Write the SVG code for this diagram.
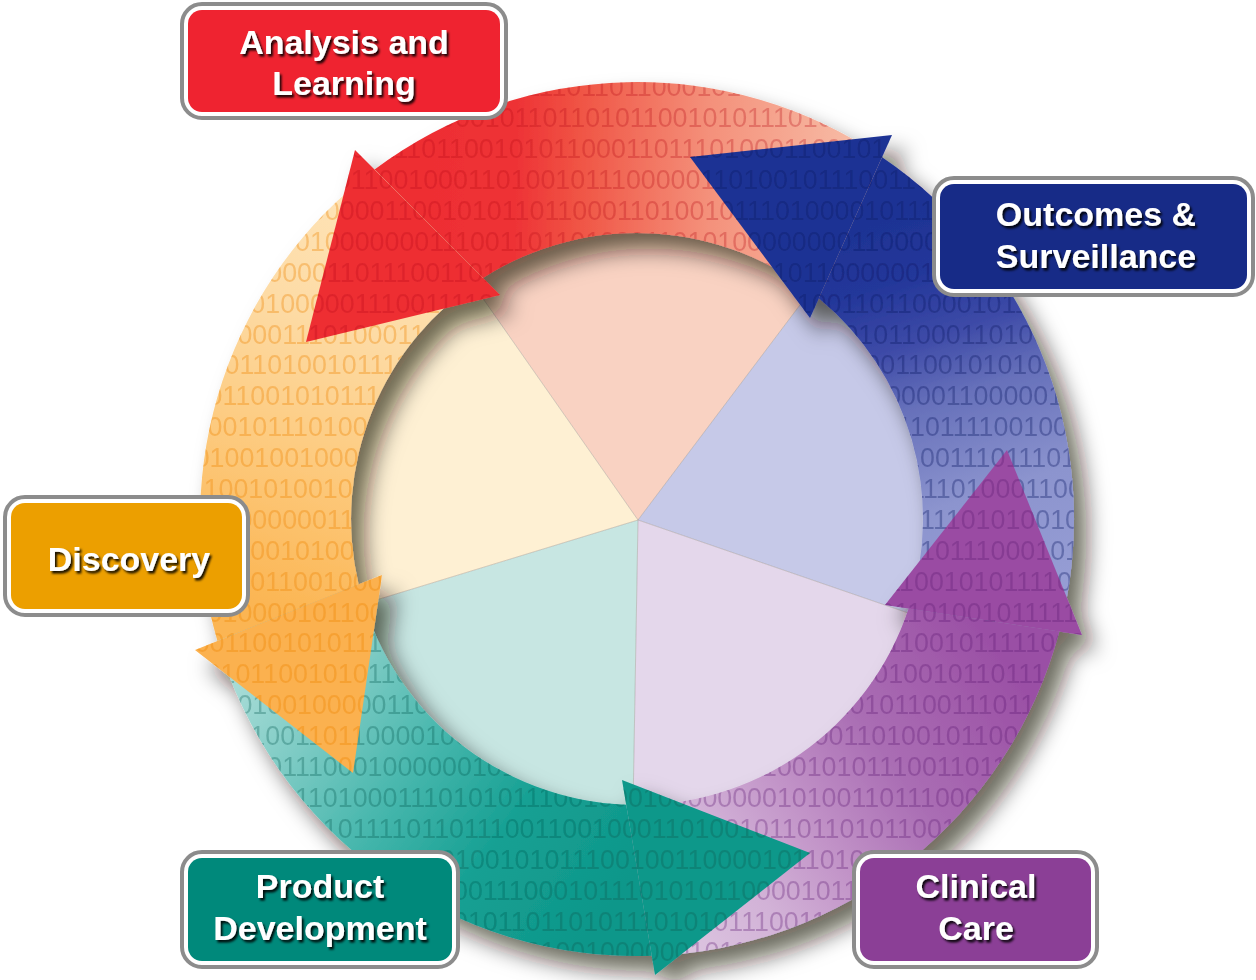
<svg xmlns="http://www.w3.org/2000/svg" width="1256" height="980" viewBox="0 0 1256 980">
<defs>
<style>
.b{font-family:"Liberation Sans",Arial,sans-serif;font-size:26.8px}
.lbl{font-family:"Liberation Sans",Arial,sans-serif;font-weight:bold;font-size:34px;fill:#fff;text-anchor:middle}
.frame{fill:#fff;stroke:#8c8c8c;stroke-width:4}
.spoke{stroke:#9d958e;stroke-width:1;stroke-opacity:.45;fill:none}
</style>
<filter id="sh" x="-10%" y="-10%" width="125%" height="125%">
<feGaussianBlur in="SourceAlpha" stdDeviation="11"/>
<feOffset dx="13" dy="16" result="o"/>
<feFlood flood-color="#1a1208" flood-opacity=".62"/>
<feComposite in2="o" operator="in"/>
<feMerge><feMergeNode/><feMergeNode in="SourceGraphic"/></feMerge>
</filter>
<filter id="ts" x="-10%" y="-20%" width="125%" height="150%">
<feDropShadow dx="2" dy="2.5" stdDeviation="1" flood-color="#000" flood-opacity=".9"/>
</filter>
<!-- arrow bodies: ring sectors bounded by the arrowhead bases -->
<path id="bodyR" d="M483.0,278.0 L374.6,169.6 A437,437 0 0 1 882.1,157.2 L818.9,298.3 A286,286 0 0 0 483.0,278.0 Z"/>
<path id="bodyB" d="M818.9,298.3 L882.1,157.2 A437,437 0 0 1 1059.3,631.5 L908.6,608.6 A286,286 0 0 0 818.9,298.3 Z"/>
<path id="bodyP" d="M908.6,608.6 L1059.3,631.5 A437,437 0 0 1 651.7,955.8 L626.2,804.8 A286,286 0 0 0 908.6,608.6 Z"/>
<path id="bodyT" d="M626.2,804.8 L651.7,955.8 A437,437 0 0 1 217.4,641.0 L358.6,584.4 A286,286 0 0 0 626.2,804.8 Z"/>
<path id="bodyO" d="M358.6,584.4 L217.4,641.0 A437,437 0 0 1 374.6,169.6 L483.0,278.0 A286,286 0 0 0 358.6,584.4 Z"/>
<!-- arrowheads -->
<polygon id="headR" points="355,150 500,295 306,342"/>
<polygon id="headB" points="892,135 810,318 690,157"/>
<polygon id="headP" points="1082,635 885,605 1007,450"/>
<polygon id="headT" points="655,975 622,780 810,853"/>
<polygon id="headO" points="195,650 382,575 353,773"/>
<clipPath id="cR"><use href="#bodyR"/></clipPath>
<clipPath id="cB"><use href="#bodyB"/></clipPath>
<clipPath id="cP"><use href="#bodyP"/></clipPath>
<clipPath id="cT"><use href="#bodyT"/></clipPath>
<clipPath id="cO"><use href="#bodyO"/></clipPath>
<clipPath id="kR"><use href="#headR"/></clipPath>
<clipPath id="kB"><use href="#headB"/></clipPath>
<clipPath id="kP"><use href="#headP"/></clipPath>
<clipPath id="kT"><use href="#headT"/></clipPath>
<clipPath id="kO"><use href="#headO"/></clipPath>
<linearGradient id="gR" gradientUnits="userSpaceOnUse" x1="431" y1="222.6" x2="854.2" y2="230.7">
<stop offset="0" stop-color="#EE2E33"/><stop offset=".2" stop-color="#EE3336"/><stop offset=".35" stop-color="#F05545"/><stop offset=".65" stop-color="#F4907A"/><stop offset="1" stop-color="#F7BCA6"/>
</linearGradient>
<linearGradient id="gB" gradientUnits="userSpaceOnUse" x1="854.2" y1="230.7" x2="982.2" y2="624.6">
<stop offset="0" stop-color="#1E3394"/><stop offset=".15" stop-color="#24379A"/><stop offset=".3" stop-color="#3D4AA7"/><stop offset=".45" stop-color="#6670BA"/><stop offset=".7" stop-color="#8C94CE"/><stop offset="1" stop-color="#979ED5"/>
</linearGradient>
<linearGradient id="gP" gradientUnits="userSpaceOnUse" x1="982.2" y1="624.6" x2="630.7" y2="879.9">
<stop offset="0" stop-color="#9A4FA5"/><stop offset=".1" stop-color="#9F58A9"/><stop offset=".36" stop-color="#AA6EB4"/><stop offset=".58" stop-color="#C192C7"/><stop offset=".78" stop-color="#D2B2D7"/><stop offset="1" stop-color="#DCC5E0"/>
</linearGradient>
<linearGradient id="gT" gradientUnits="userSpaceOnUse" x1="630.7" y1="879.9" x2="290" y2="618.5">
<stop offset="0" stop-color="#0E978A"/><stop offset=".3" stop-color="#16A093"/><stop offset=".55" stop-color="#45B6AC"/><stop offset=".8" stop-color="#7DCBC4"/><stop offset="1" stop-color="#A6DBD6"/>
</linearGradient>
<linearGradient id="gO" gradientUnits="userSpaceOnUse" x1="290" y1="618.5" x2="431" y2="222.6">
<stop offset="0" stop-color="#FBB552"/><stop offset=".4" stop-color="#FDCC82"/><stop offset=".7" stop-color="#FDDBA5"/><stop offset="1" stop-color="#FEE3B6"/>
</linearGradient>
<!-- binary texture rows -->
<g id="bits" class="b">
<text x="150" y="96">011011001011100001011011001110110110001010111101000110100010111001</text>
<text x="150" y="127">100101110000101101100001011011010110010101110101101100101110001011</text>
<text x="150" y="158">111000010110110011101100101011000110111010001100101011011010010111</text>
<text x="150" y="189">101100101111001100100011010010111000001101001011100110111000101110</text>
<text x="150" y="220">010110011010000011001010110110001101001011101000010111000110110010</text>
<text x="150" y="251">110100011001000000011100110110100011010100000000110000010010110110</text>
<text x="150" y="282">101100100000110111001101011101000100110110010110000001100110100011</text>
<text x="150" y="313">011011001000001110011110000101101100101111010100110110000101101001</text>
<text x="150" y="344">101101000111010001100110100010111001101100101110010110001101001011</text>
<text x="150" y="374">100100110100101111111000010110110010111101000111100011001010101101</text>
<text x="150" y="405">110101100101011100010111001101100101110000101101101000011000001101</text>
<text x="150" y="436">011000101110100000101111010001101000101110011011101111011110010010</text>
<text x="150" y="467">101010010010001110000101101100101111010001101000111010011101110110</text>
<text x="150" y="498">011110010100100111001101100101110000101101100101111101110100011001</text>
<text x="150" y="529">010110000000111010001101000101110011011001011100010001110101001011</text>
<text x="150" y="560">110101100101000101101100101111010001101000101110000101011100010110</text>
<text x="150" y="591">001110101100100001101100101110000101101100101111010110010101111001</text>
<text x="150" y="622">101101000010110001101000110100010111001101100100000110100101111100</text>
<text x="150" y="652">001001100101011101110000101101100101111010001101100110010111110001</text>
<text x="150" y="683">011101011001010110011011001011100001011011001010110100101101110100</text>
<text x="150" y="714">011010010010000011000110100010111001101100101101010110011101110000</text>
<text x="150" y="745">101100110011011000010011111010001101000101110000110100101100110110</text>
<text x="150" y="776">010110100111000100000010100110100010111001100101011100110110110010</text>
<text x="150" y="807">100101110011010001110101011100100010000000010100110111000101101100</text>
<text x="150" y="838">010111101000101111011011100110010001101001011011010110010101101001</text>
<text x="150" y="869">110100011010001011100100101011100100110000101101011011001011100001</text>
<text x="150" y="900">101100101111010001101001110001011101010110000101101000010111001101</text>
<text x="150" y="931">011011001011100001011010110110101110101011100110110010111101000110</text>
<text x="150" y="961">100010111001101100101110010100100000010110110010111101000110100010</text>
</g>
</defs>

<rect width="1256" height="980" fill="#fff"/>

<!-- centre pie seen through the ring -->
<g id="pie">
<path d="M638,520 L465.9,274.2 A300,300 0 0 1 818.5,280.4 Z" fill="#F9D2C2"/>
<path d="M638,520 L818.5,280.4 A300,300 0 0 1 921.7,617.7 Z" fill="#C6C9E8"/>
<path d="M638,520 L921.7,617.7 A300,300 0 0 1 632.8,820 Z" fill="#E4D7EB"/>
<path d="M638,520 L632.8,820 A300,300 0 0 1 351.1,607.7 Z" fill="#C7E6E2"/>
<path d="M638,520 L351.1,607.7 A300,300 0 0 1 465.9,274.2 Z" fill="#FEF0D3"/>
<path class="spoke" d="M638,520 L465.9,274.2 M638,520 L818.5,280.4 M638,520 L921.7,617.7 M638,520 L632.8,820 M638,520 L351.1,607.7"/>
</g>

<!-- cycle arrows with binary texture -->
<g id="connectors" filter="url(#sh)">
<g id="bodies">
<use href="#bodyR" fill="url(#gR)"/>
<use href="#bodyB" fill="url(#gB)"/>
<use href="#bodyP" fill="url(#gP)"/>
<use href="#bodyT" fill="url(#gT)"/>
<use href="#bodyO" fill="url(#gO)"/>
<use href="#bits" clip-path="url(#cR)" fill="#B8101A" opacity=".3"/>
<use href="#bits" clip-path="url(#cB)" fill="#0E1A66" opacity=".35"/>
<use href="#bits" clip-path="url(#cP)" fill="#5E1A73" opacity=".32"/>
<use href="#bits" clip-path="url(#cT)" fill="#00574E" opacity=".3"/>
<use href="#bits" clip-path="url(#cO)" fill="#EE8300" opacity=".35"/>
</g>
<g id="heads">
<use href="#headR" fill="#EE2E33"/>
<use href="#headB" fill="#1E3394"/>
<use href="#headP" fill="#9A4CA3"/>
<use href="#headT" fill="#0C988A"/>
<use href="#headO" fill="#FBB14F"/>
<use href="#bits" clip-path="url(#kR)" fill="#B8101A" opacity=".3"/>
<use href="#bits" clip-path="url(#kB)" fill="#0E1A66" opacity=".35"/>
<use href="#bits" clip-path="url(#kP)" fill="#5E1A73" opacity=".32"/>
<use href="#bits" clip-path="url(#kT)" fill="#00574E" opacity=".3"/>
<use href="#bits" clip-path="url(#kO)" fill="#EE8300" opacity=".35"/>
</g>
</g>

<!-- stage labels -->
<g id="node-analysis">
<rect class="frame" x="182" y="4" width="324" height="114" rx="20"/>
<rect x="188" y="10" width="312" height="102" rx="14" fill="#EF2330"/>
<g filter="url(#ts)"><text class="lbl" x="344" y="54">Analysis and</text><text class="lbl" x="344" y="95">Learning</text></g>
</g>
<g id="node-outcomes">
<rect class="frame" x="934" y="178" width="319" height="117" rx="20"/>
<rect x="940" y="184" width="307" height="105" rx="14" fill="#172B87"/>
<g filter="url(#ts)"><text class="lbl" x="1096" y="226">Outcomes &amp;</text><text class="lbl" x="1096" y="268">Surveillance</text></g>
</g>
<g id="node-discovery">
<rect class="frame" x="5" y="497" width="243" height="118" rx="20"/>
<rect x="11" y="503" width="231" height="106" rx="14" fill="#EC9F00"/>
<g filter="url(#ts)"><text class="lbl" x="129" y="571">Discovery</text></g>
</g>
<g id="node-product">
<rect class="frame" x="182" y="852" width="276" height="115" rx="20"/>
<rect x="188" y="858" width="264" height="103" rx="14" fill="#00897B"/>
<g filter="url(#ts)"><text class="lbl" x="320" y="898">Product</text><text class="lbl" x="320" y="940">Development</text></g>
</g>
<g id="node-clinical">
<rect class="frame" x="854" y="852" width="243" height="115" rx="20"/>
<rect x="860" y="858" width="231" height="103" rx="14" fill="#8B3F96"/>
<g filter="url(#ts)"><text class="lbl" x="976" y="898">Clinical</text><text class="lbl" x="976" y="940">Care</text></g>
</g>
</svg>
